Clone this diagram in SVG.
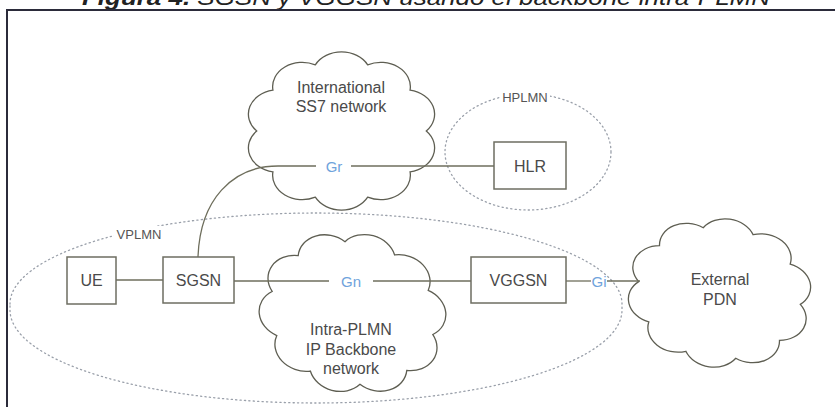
<svg xmlns="http://www.w3.org/2000/svg" xmlns:xlink="http://www.w3.org/1999/xlink" width="835" height="407" viewBox="0 0 835 407">
  <defs>
    <style>
      .frame { stroke: #2b2b3a; stroke-width: 2; fill: none; }
      .title { font-family: "Liberation Sans", Arial, sans-serif; font-style: italic; font-size: 22px; fill: #222; }
      .box { fill: #ffffff; stroke: #6e6e62; stroke-width: 1.5; }
      .cloud { fill: #ffffff; stroke: #5e5e52; stroke-width: 1.3; vector-effect: non-scaling-stroke; }
      .zone { fill: none; stroke: #9aa0aa; stroke-width: 1.3; stroke-dasharray: 1.2 3.2; stroke-linecap: round; }
      .wire { fill: none; stroke: #6e6e5c; stroke-width: 1.3; }
      .lbl { font-family: "Liberation Sans", Arial, sans-serif; font-size: 16px; fill: #4a4a4a; text-anchor: middle; }
      .zlbl { font-family: "Liberation Sans", Arial, sans-serif; font-size: 13px; fill: #555; text-anchor: middle; }
      .if { font-family: "Liberation Sans", Arial, sans-serif; font-size: 15px; fill: #6fa3dc; text-anchor: middle; }
    </style>
    <path id="cloudShape" class="cloud" d="M 80,0 A 28 28 0 0 1 64.7,47 A 28 28 0 0 1 24.7,76.1 A 28 28 0 0 1 -24.7,76.1 A 28 28 0 0 1 -64.7,47 A 28 28 0 0 1 -80,0 A 28 28 0 0 1 -64.7,-47 A 28 28 0 0 1 -24.7,-76.1 A 28 28 0 0 1 24.7,-76.1 A 28 28 0 0 1 64.7,-47 A 28 28 0 0 1 80,0 Z"/>
  </defs>

  <rect width="835" height="407" fill="#ffffff"/>

  <!-- page title (cut off at top) and frame -->
  <text class="title" x="82" y="5" textLength="688" lengthAdjust="spacingAndGlyphs"><tspan font-weight="bold">Figura 4.</tspan> SGSN y VGGSN usando el backbone intra-PLMN</text>
  <line class="frame" x1="6" y1="10" x2="835" y2="10"/>
  <line class="frame" x1="7" y1="10" x2="7" y2="407"/>

  <!-- network zones -->
  <g id="vplmn">
    <path class="zone" d="M 10,304 A 306 91 0 0 1 622,304 L 622,310 A 306 93 0 0 1 10,310 Z"/>
    <rect x="114" y="226" width="50" height="16" fill="#ffffff"/>
    <text class="zlbl" x="139" y="238.5">VPLMN</text>
  </g>
  <g id="hplmn">
    <ellipse class="zone" cx="528" cy="152" rx="83" ry="58"/>
    <rect x="500" y="89" width="50" height="16" fill="#ffffff"/>
    <text class="zlbl" x="525" y="101.5">HPLMN</text>
  </g>

  <!-- clouds -->
  <g id="ss7">
    <use xlink:href="#cloudShape" href="#cloudShape" transform="translate(341.5,131) scale(1.06,0.87)"/>
    <text class="lbl" x="341" y="92.5">International</text>
    <text class="lbl" x="341" y="112">SS7 network</text>
  </g>
  <g id="backbone">
    <use xlink:href="#cloudShape" href="#cloudShape" transform="translate(352.5,313) rotate(15) scale(1.04,0.88)"/>
    <text class="lbl" x="351" y="335">Intra-PLMN</text>
    <text class="lbl" x="351" y="355">IP Backbone</text>
    <text class="lbl" x="351" y="374">network</text>
  </g>
  <g id="pdn">
    <use xlink:href="#cloudShape" href="#cloudShape" transform="translate(719.5,293) rotate(8) scale(1.02,0.82)"/>
    <text class="lbl" x="720" y="285">External</text>
    <text class="lbl" x="720" y="305">PDN</text>
  </g>

  <!-- connectors -->
  <g id="connectors">
    <line class="wire" x1="116" y1="280" x2="163" y2="280"/>
    <line class="wire" x1="234" y1="281" x2="329" y2="281"/>
    <line class="wire" x1="373" y1="281" x2="471" y2="281"/>
    <line class="wire" x1="566" y1="281" x2="591" y2="281"/>
    <line class="wire" x1="607" y1="281" x2="640" y2="281"/>
    <line class="wire" x1="494" y1="166" x2="351" y2="166"/>
    <path class="wire" d="M 316,166 L 278,166 C 232,166 200,200 198,257"/>
    <text class="if" x="334" y="171.5">Gr</text>
    <text class="if" x="351" y="286.5">Gn</text>
    <text class="if" x="599" y="286.5">Gi</text>
  </g>

  <!-- boxes -->
  <g id="ue">
    <rect class="box" x="67" y="257" width="49" height="47"/>
    <text class="lbl" x="91.5" y="286">UE</text>
  </g>
  <g id="sgsn">
    <rect class="box" x="163" y="257" width="71" height="46"/>
    <text class="lbl" x="198.5" y="286">SGSN</text>
  </g>
  <g id="vggsn">
    <rect class="box" x="471" y="257" width="95" height="46"/>
    <text class="lbl" x="518.5" y="286">VGGSN</text>
  </g>
  <g id="hlr">
    <rect class="box" x="494" y="142" width="72" height="47"/>
    <text class="lbl" x="530" y="171.5">HLR</text>
  </g>
</svg>
